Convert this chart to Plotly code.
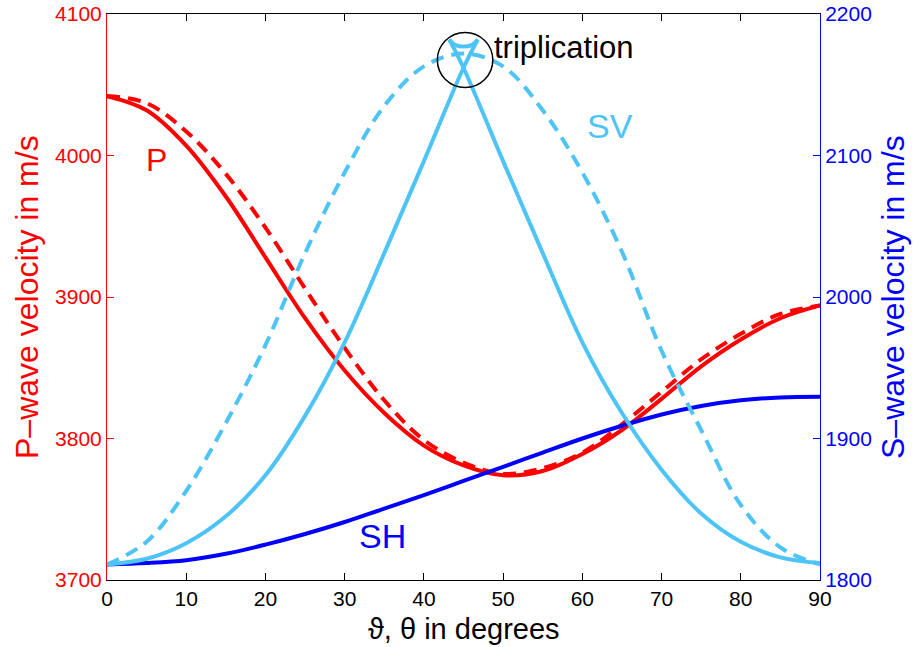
import plotly.graph_objects as go

# ---------------- data ----------------
angles = [0, 5, 10, 15, 20, 25, 30, 35, 40, 45, 50, 55, 60, 65, 70, 75, 80, 85, 90]

# P-wave (left axis, m/s)
p_group = [4042, 4032, 4007, 3971, 3928, 3885, 3848, 3818, 3795, 3781,
           3774, 3777, 3789, 3806, 3828, 3851, 3870, 3885, 3894]
p_phase = [4042, 4037, 4017, 3987, 3949, 3906, 3864, 3827, 3799, 3783,
           3775, 3779, 3790, 3810, 3833, 3856, 3874, 3888, 3894]

# S-waves (right axis, m/s)
sv_phase = [1811, 1827, 1863, 1911, 1966, 2031, 2088, 2135, 2163, 2172,
            2163, 2132, 2088, 2032, 1962, 1906, 1853, 1823, 1811]
sh_group = [1811, 1812, 1814, 1818.5, 1825, 1832.5, 1841, 1850.5, 1860, 1870,
            1880, 1890, 1900, 1909, 1917, 1923, 1927, 1929, 1929.5]

# SV group velocity (with triplication near 45 degrees): three branches
sv_rise_x = [0, 5, 10, 15, 20, 25, 30, 35, 40, 45, 46.8]
sv_rise_y = [1811, 1815, 1826, 1845, 1874, 1916, 1968, 2031, 2096, 2162, 2182]
sv_cap_x = [46.8, 46, 45, 44, 43.2]
sv_cap_y = [2182, 2178, 2177, 2178, 2182]
sv_fall_x = [43.2, 45, 50, 55, 60, 65, 70, 75, 80, 85, 90]
sv_fall_y = [2182, 2162, 2096, 2031, 1968, 1918, 1878, 1847, 1827, 1816, 1812]

x_ticks = [0, 10, 20, 30, 40, 50, 60, 70, 80, 90]
p_ticks = [3700, 3800, 3900, 4000, 4100]
s_ticks = [1800, 1900, 2000, 2100, 2200]

# ---------------- styling ----------------
RED = "#FF0000"
BLUE = "#0000FF"
LBLUE = "#4DC4F5"
FONT = "Liberation Sans, Arial, Helvetica, sans-serif"
LW = 4
DASH = "13px,8px"

fig = go.Figure()

fig.add_trace(go.Scatter(x=angles, y=p_phase, mode="lines", yaxis="y",
                         line=dict(color=RED, width=LW, dash=DASH, shape="spline"),
                         hoverinfo="skip"))
fig.add_trace(go.Scatter(x=angles, y=p_group, mode="lines", yaxis="y",
                         line=dict(color=RED, width=LW, shape="spline"),
                         hoverinfo="skip"))
fig.add_trace(go.Scatter(x=angles, y=sh_group, mode="lines", yaxis="y2",
                         line=dict(color=BLUE, width=LW, shape="spline"),
                         hoverinfo="skip"))
fig.add_trace(go.Scatter(x=angles, y=sv_phase, mode="lines", yaxis="y2",
                         line=dict(color=LBLUE, width=LW, dash=DASH, shape="spline"),
                         hoverinfo="skip"))
for bx, by in [(sv_rise_x, sv_rise_y), (sv_cap_x, sv_cap_y), (sv_fall_x, sv_fall_y)]:
    fig.add_trace(go.Scatter(x=bx, y=by, mode="lines", yaxis="y2",
                             line=dict(color=LBLUE, width=LW, shape="spline"),
                             hoverinfo="skip"))

# circle around triplication
fig.add_shape(type="circle", xref="x", yref="y2", x0=41.7, x1=48.7, y0=2148, y1=2187,
              line=dict(color="black", width=1.5))

annotations = [
    dict(x=6.3, y=3997, xref="x", yref="y", text="P", showarrow=False,
         font=dict(color=RED, size=32, family=FONT)),
    dict(x=63.5, y=2121, xref="x", yref="y2", text="SV", showarrow=False,
         font=dict(color=LBLUE, size=34, family=FONT)),
    dict(x=34.8, y=1831, xref="x", yref="y2", text="SH", showarrow=False,
         font=dict(color=BLUE, size=34, family=FONT)),
    dict(x=48.6, y=2176, xref="x", yref="y2", text="triplication", showarrow=False,
         xanchor="left", yanchor="middle",
         font=dict(color="black", size=31, family=FONT)),
    dict(x=0.5, y=-0.087, xref="paper", yref="paper", text="ϑ, θ in degrees",
         showarrow=False, xanchor="center", yanchor="middle",
         font=dict(color="black", size=29, family=FONT)),
    dict(x=-0.1122, y=0.5, xref="paper", yref="paper", text="P–wave velocity in m/s",
         showarrow=False, textangle=-90, xanchor="center", yanchor="middle",
         font=dict(color=RED, size=32, family=FONT)),
    dict(x=1.1024, y=0.5, xref="paper", yref="paper", text="S–wave velocity in m/s",
         showarrow=False, textangle=-90, xanchor="center", yanchor="middle",
         font=dict(color=BLUE, size=32, family=FONT)),
]

fig.update_layout(
    width=914, height=647,
    margin=dict(l=107, r=94, t=14, b=67, autoexpand=False),
    plot_bgcolor="white", paper_bgcolor="white",
    showlegend=False,
    annotations=annotations,
    xaxis=dict(range=[0, 90], tickvals=x_ticks, ticks="inside", ticklen=7,
               tickcolor="black", showline=True, linecolor="black", linewidth=1,
               mirror="ticks", showgrid=False, zeroline=False,
               tickfont=dict(size=21, color="black", family=FONT)),
    yaxis=dict(range=[3700, 4100], tickvals=p_ticks, ticks="inside", ticklen=7,
               tickcolor=RED, showline=True, linecolor=RED, linewidth=1,
               showgrid=False, zeroline=False, ticklabeloverflow="allow",
               tickfont=dict(size=21, color=RED, family=FONT)),
    yaxis2=dict(range=[1800, 2200], tickvals=s_ticks, ticks="inside", ticklen=7,
                tickcolor=BLUE, showline=True, linecolor=BLUE, linewidth=1,
                overlaying="y", side="right", showgrid=False, zeroline=False,
                ticklabeloverflow="allow",
                tickfont=dict(size=21, color=BLUE, family=FONT)),
)

# remove the default page margin so the 914x647 figure fills the window exactly
fig.write_html("out.html",
               config={"displayModeBar": False, "staticPlot": True},
               post_script="document.body.style.margin='0';document.body.style.overflow='hidden';")
